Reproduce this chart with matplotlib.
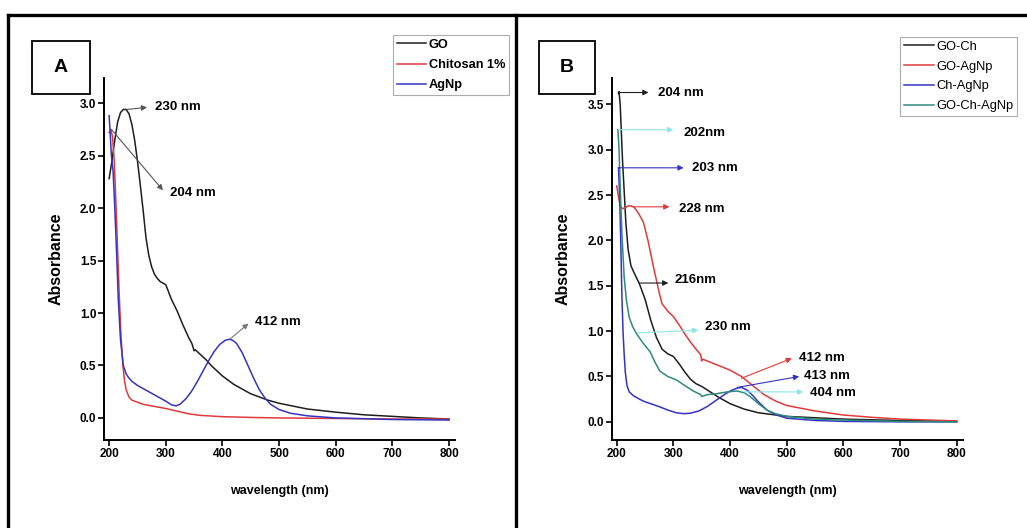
import matplotlib.pyplot as plt
from matplotlib.lines import Line2D
from matplotlib.patches import Rectangle

plt.rcParams['font.family'] = ['Liberation Sans', 'DejaVu Sans']

# Panel A data
go_wl = [200, 205, 210, 215, 220, 225, 230, 235, 240, 245, 250, 255, 260, 265, 270, 275, 280, 285, 290,
         300, 310, 320, 330, 340, 346, 350, 352, 360, 372, 380, 400, 420, 450, 480, 500, 550, 600, 650,
         700, 750, 800]
go_abs = [2.28, 2.45, 2.65, 2.82, 2.91, 2.94, 2.94, 2.90, 2.80, 2.65, 2.45, 2.22, 1.98, 1.72, 1.55, 1.44,
          1.37, 1.33, 1.30, 1.27, 1.13, 1.02, 0.89, 0.77, 0.71, 0.64, 0.65, 0.61, 0.55, 0.50, 0.40, 0.32,
          0.23, 0.17, 0.14, 0.085, 0.055, 0.03, 0.015, 0.0, -0.01]

chi_wl = [200, 203, 206, 209, 212, 215, 218, 221, 224, 227, 230, 235, 240, 250, 260, 280, 300, 320, 340,
          360, 400, 450, 500, 600, 700, 800]
chi_abs = [2.72, 2.75, 2.68, 2.45, 2.05, 1.6, 1.15, 0.78, 0.52, 0.36, 0.27, 0.2, 0.17, 0.15, 0.13, 0.11,
           0.09, 0.065, 0.04, 0.025, 0.012, 0.005, 0.0, -0.005, -0.01, -0.01]

ag_wl = [200, 202, 204, 207, 210, 213, 216, 220, 225, 230, 235, 240, 250, 260, 270, 280, 290, 300, 310,
         318, 325, 335, 345, 355, 365, 375, 385, 395, 405, 412, 418, 425, 435, 445, 455, 465, 475, 485,
         500, 520, 550, 600, 700, 800]
ag_abs = [2.88, 2.7, 2.5, 2.35, 2.0, 1.6, 1.15, 0.75, 0.5, 0.42, 0.38, 0.35, 0.31, 0.28, 0.25, 0.22, 0.19,
          0.16, 0.125, 0.115, 0.13, 0.18, 0.25, 0.34, 0.44, 0.54, 0.63, 0.70, 0.74, 0.75, 0.74, 0.71, 0.62,
          0.5, 0.38, 0.27, 0.19, 0.13, 0.08, 0.045, 0.02, 0.0, -0.015, -0.02]

# Panel B data
goch_wl = [203, 204, 206, 208, 210, 213, 216, 220, 225, 230, 240, 250, 260, 270, 280, 290, 300, 310,
           320, 330, 340, 350, 360, 380, 400, 425, 450, 500, 550, 600, 700, 800]
goch_abs = [3.62, 3.64, 3.5, 3.2, 2.9, 2.55, 2.2, 1.9, 1.72, 1.65, 1.52, 1.35, 1.12, 0.93, 0.8, 0.75,
            0.72, 0.64, 0.55, 0.47, 0.42, 0.39, 0.35, 0.27, 0.2, 0.14, 0.1, 0.06, 0.045, 0.03, 0.015, 0.005]

goag_wl = [200, 203, 206, 210, 215, 220, 225, 230, 235, 240, 247, 255, 265, 275, 280, 290, 300, 310, 320,
           330, 340, 348, 350, 352, 360, 380, 400, 420, 440, 460, 480, 500, 550, 600, 650, 700, 800]
goag_abs = [2.6, 2.48, 2.38, 2.35, 2.36, 2.38, 2.38, 2.37, 2.33, 2.28, 2.2, 2.0, 1.7, 1.42, 1.3, 1.22, 1.16,
            1.07, 0.97, 0.88, 0.8, 0.74, 0.67, 0.69, 0.67, 0.62, 0.57, 0.5, 0.4, 0.3, 0.23, 0.18, 0.12,
            0.075, 0.05, 0.03, 0.01]

chag_wl = [203, 205, 207, 209, 211, 213, 215, 218, 222, 229, 240, 250, 260, 276, 290, 305, 318, 330, 345,
           360, 376, 390, 400, 412, 420, 430, 440, 450, 465, 480, 500, 550, 600, 700, 800]
chag_abs = [2.8, 2.5, 2.0, 1.4, 1.0, 0.75, 0.55, 0.4, 0.33, 0.29, 0.25, 0.22, 0.2, 0.165, 0.13, 0.1, 0.09,
            0.095, 0.12, 0.17, 0.24, 0.3, 0.34, 0.37, 0.38, 0.35, 0.29, 0.22, 0.13, 0.08, 0.04, 0.015,
            0.005, 0.0, 0.0]

gochag_wl = [202, 204, 206, 209, 213, 217, 222, 228, 235, 245, 259, 268, 276, 290, 306, 320, 335, 348,
             350, 360, 376, 395, 412, 425, 435, 450, 465, 480, 500, 550, 600, 700, 800]
gochag_abs = [3.22, 3.0, 2.6, 2.08, 1.6, 1.34, 1.15, 1.05, 0.97, 0.88, 0.77, 0.65, 0.56, 0.5, 0.46, 0.4,
              0.34, 0.3, 0.28, 0.3, 0.31, 0.33, 0.34, 0.32, 0.28, 0.2, 0.13, 0.09, 0.06, 0.03, 0.02,
              0.005, 0.0]

BLACK = '#1e1e1e'
RED = '#e03a3a'
BLUE = '#3434c4'
TEAL = '#2e8b7a'
CYAN = '#8ae6ea'

fig = plt.figure(figsize=(10.27, 5.28), dpi=100)

# outer frames
for xs, ys in [([0.0078, 1.0], [0.9716, 0.9716]),
               ([0.0078, 0.0078], [0.0, 0.9716]),
               ([0.5024, 0.5024], [0.0, 0.9716])]:
    fig.add_artist(Line2D(xs, ys, color='black', lw=2.4, transform=fig.transFigure))

# panel letters
for x0, w, letter in [(0.0312, 0.0565, 'A'), (0.5248, 0.0545, 'B')]:
    fig.add_artist(Rectangle((x0, 0.822), w, 0.1004, fill=False, ec='black', lw=1.3,
                             transform=fig.transFigure))
    fig.text(x0 + w / 2, 0.872, letter, ha='center', va='center', fontsize=14, fontweight='bold')


def style_axes(ax, ymin, ymax, yticks):
    ax.set_xlim(191, 810.6)
    ax.set_ylim(ymin, ymax)
    ax.set_xticks([200, 300, 400, 500, 600, 700, 800])
    ax.set_yticks(yticks)
    ax.set_yticklabels(['%.1f' % t for t in yticks])
    for s in ['top', 'right']:
        ax.spines[s].set_visible(False)
    for s in ['left', 'bottom']:
        ax.spines[s].set_linewidth(1.4)
    ax.tick_params(direction='out', length=4, width=1.2, pad=1.5, labelsize=8.5)
    for lab in ax.get_xticklabels() + ax.get_yticklabels():
        lab.set_fontweight('bold')
    ax.set_xlabel('wavelength (nm)', fontsize=9, fontweight='bold', labelpad=18)
    ax.set_ylabel('Absorbance', fontsize=11.5, fontweight='bold', labelpad=12)


def arrow(ax, start, end, color, text=None, tpos=None):
    ax.annotate('', xy=end, xytext=start,
                arrowprops=dict(arrowstyle='-|>', color=color, lw=0.8, mutation_scale=8,
                                shrinkA=0, shrinkB=0))
    if text:
        ax.text(tpos[0], tpos[1], text, fontsize=9.5, fontweight='bold', va='center', ha='left')


# Panel A
axA = fig.add_axes([0.1013, 0.1667, 0.3418, 0.6856])
axA.plot(go_wl, go_abs, color=BLACK, lw=1.1, label='GO')
axA.plot(chi_wl, chi_abs, color=RED, lw=1.1, label='Chitosan 1%')
axA.plot(ag_wl, ag_abs, color=BLUE, lw=1.1, label='AgNp')
style_axes(axA, -0.21, 3.24, [0.0, 0.5, 1.0, 1.5, 2.0, 2.5, 3.0])
arrow(axA, (231, 2.94), (267, 2.96), '#555555', '230 nm', (281, 2.96))
arrow(axA, (204, 2.75), (295, 2.17), '#555555', '204 nm', (307, 2.14))
arrow(axA, (413, 0.75), (446, 0.90), '#777777', '412 nm', (458, 0.91))
legA = fig.legend(handles=axA.get_lines(), loc='upper left', bbox_to_anchor=(0.3827, 0.934),
                  frameon=True, fancybox=False, edgecolor='#999999',
                  prop={'weight': 'bold', 'size': 9.2}, handlelength=2.3,
                  handletextpad=0.2, labelspacing=0.65, borderpad=0.3, borderaxespad=0)
legA.get_frame().set_linewidth(0.8)

# Panel B
axB = fig.add_axes([0.5956, 0.1667, 0.3418, 0.6856])
axB.plot(goch_wl, goch_abs, color=BLACK, lw=1.1, label='GO-Ch')
axB.plot(goag_wl, goag_abs, color=RED, lw=1.1, label='GO-AgNp')
axB.plot(chag_wl, chag_abs, color=BLUE, lw=1.1, label='Ch-AgNp')
axB.plot(gochag_wl, gochag_abs, color=TEAL, lw=1.1, label='GO-Ch-AgNp')
style_axes(axB, -0.20, 3.79, [0.0, 0.5, 1.0, 1.5, 2.0, 2.5, 3.0, 3.5])
arrow(axB, (205, 3.63), (256, 3.63), BLACK, '204 nm', (273, 3.63))
arrow(axB, (203, 3.22), (300, 3.22), CYAN, '202nm', (318, 3.18))
arrow(axB, (203, 2.80), (318, 2.80), BLUE, '203 nm', (332, 2.80))
arrow(axB, (228, 2.37), (293, 2.37), RED, '228 nm', (309, 2.35))
arrow(axB, (240, 1.53), (291, 1.53), BLACK, '216nm', (301, 1.56))
arrow(axB, (236, 0.98), (344, 1.01), CYAN, '230 nm', (356, 1.05))
arrow(axB, (420, 0.48), (509, 0.70), RED, '412 nm', (522, 0.70))
arrow(axB, (413, 0.38), (522, 0.50), BLUE, '413 nm', (531, 0.51))
arrow(axB, (425, 0.33), (529, 0.33), CYAN, '404 nm', (541, 0.32))
legB = fig.legend(handles=axB.get_lines(), loc='upper left', bbox_to_anchor=(0.8763, 0.930),
                  frameon=True, fancybox=False, edgecolor='#999999',
                  prop={'size': 9.3}, handlelength=2.3, handletextpad=0.2,
                  labelspacing=0.6, borderpad=0.3, borderaxespad=0)
legB.get_frame().set_linewidth(0.8)

fig.savefig('out.png', dpi=100)
